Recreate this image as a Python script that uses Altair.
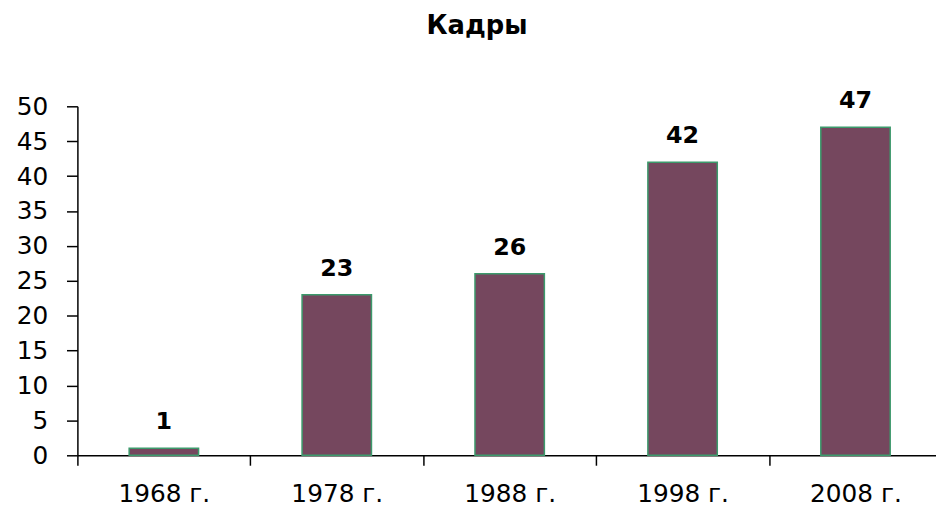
import altair as alt
import pandas as pd

years = ["1968 г.", "1978 г.", "1988 г.", "1998 г.", "2008 г."]
values = [1, 23, 26, 42, 47]
y_ticks = [0, 5, 10, 15, 20, 25, 30, 35, 40, 45, 50]

df = pd.DataFrame({"year": years, "value": values})

FONT = "DejaVu Sans"

x_enc = alt.X(
    "year:N",
    sort=years,
    title=None,
    scale=alt.Scale(paddingInner=0, paddingOuter=0, range=[0, 872]),
    axis=alt.Axis(
        labelAngle=0,
        labelFont=FONT,
        labelFontSize=25,
        labelColor="#000000",
        labelPadding=17,
        labelOverlap=False,
        tickBand="extent",
        tickSize=10,
        tickColor="#000000",
        tickWidth=1.5,
        domainColor="#000000",
        domainWidth=1.5,
        grid=False,
    ),
)

y_enc = alt.Y(
    "value:Q",
    title=None,
    scale=alt.Scale(domain=[0, 50], nice=False),
    axis=alt.Axis(
        values=y_ticks,
        labelFont=FONT,
        labelFontSize=25,
        labelColor="#000000",
        labelPadding=19,
        labelOverlap=False,
        labelFlush=False,
        tickSize=11,
        tickColor="#000000",
        tickWidth=1.5,
        domainColor="#000000",
        domainWidth=1.5,
        grid=False,
    ),
)

base = alt.Chart(df).encode(x=x_enc, y=y_enc)

bars = base.mark_bar(
    size=70, color="#75475E", stroke="#3C9A6C", strokeWidth=1.5
)

labels = base.mark_text(
    font=FONT, fontSize=24, fontWeight="bold", color="#000000",
    baseline="alphabetic", dy=-19
).encode(text="value:Q")

chart = (
    alt.layer(bars, labels)
    .properties(
        width=866,
        height=352,
        padding={"left": 70, "top": 97, "right": 0, "bottom": 52},
        autosize=alt.AutoSizeParams(type="none"),
        title=alt.TitleParams(
            text="Кадры",
            font=FONT,
            fontSize=26,
            fontWeight="bold",
            color="#000000",
            anchor="middle",
            dx=-30,
            baseline="alphabetic",
            offset=30,
        ),
    )
    .configure_view(stroke=None)
)

chart.save("out.html", embed_options={"renderer": "svg", "actions": False})
